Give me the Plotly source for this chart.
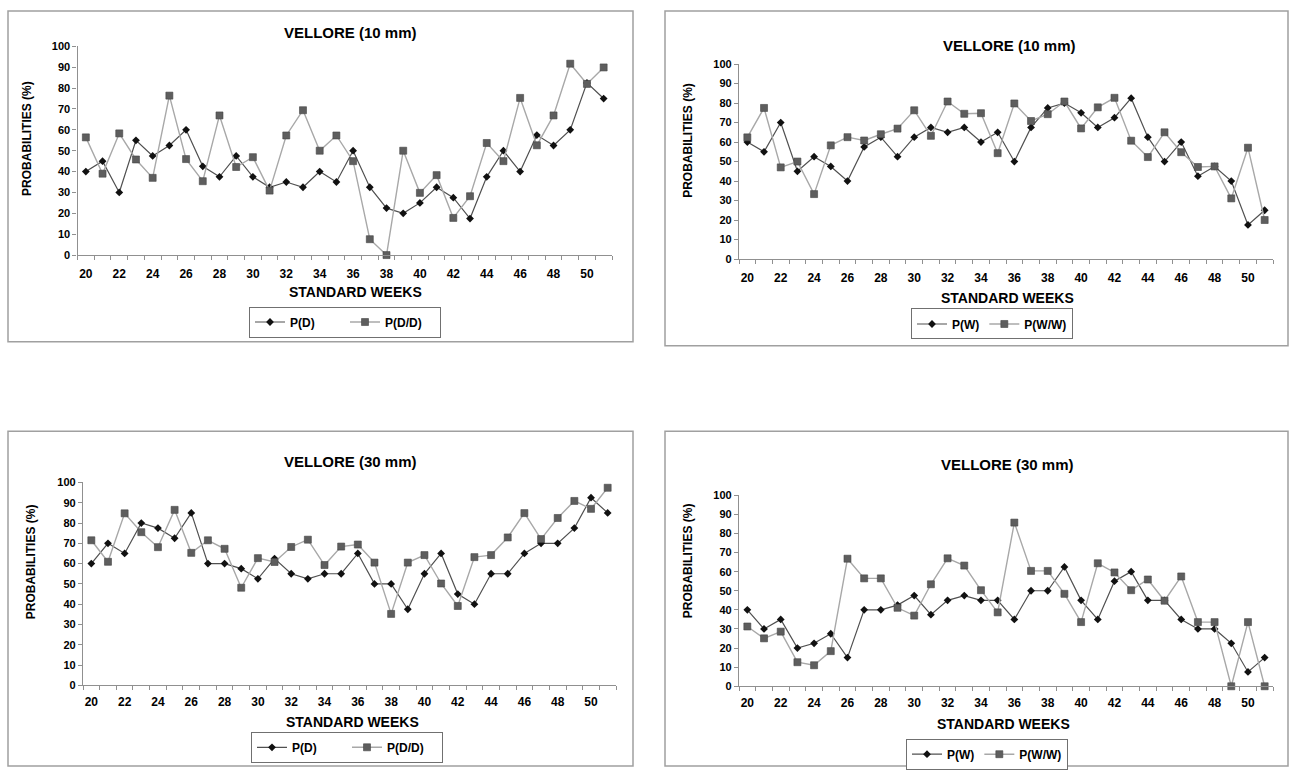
import plotly.graph_objects as go

W, H = 1289, 773

weeks = list(range(20, 52))
tick_weeks = list(range(20, 52, 2))
y_ticks = list(range(0, 101, 10))

# VELLORE (10 mm)
p_d_10 = [40, 45, 30, 55, 47.5, 52.5, 60, 42.5, 37.5, 47.5, 37.5, 32.5, 35, 32.5, 40, 35,
          50, 32.5, 22.5, 20, 25, 32.5, 27.5, 17.5, 37.5, 50, 40, 57.5, 52.5, 60, 82.5, 75]
p_dd_10 = [56.4, 39, 58.3, 45.8, 37, 76.4, 46, 35.4, 66.9, 42.2, 46.9, 30.9, 57.3, 69.4, 50, 57.3,
           45, 7.6, 0, 50, 29.8, 38.3, 17.8, 28.2, 53.7, 45, 75.3, 52.6, 66.9, 91.7, 82, 89.9]
p_w_10 = [60, 55, 70, 45, 52.5, 47.5, 40, 57.5, 62.5, 52.5, 62.5, 67.5, 65, 67.5, 60, 65,
          50, 67.5, 77.5, 80, 75, 67.5, 72.5, 82.5, 62.5, 50, 60, 42.5, 47.5, 40, 17.5, 25]
p_ww_10 = [62.4, 77.5, 47, 50, 33.3, 58.3, 62.5, 60.8, 64, 66.9, 76.3, 63.2, 80.8, 74.5, 74.8, 54.3,
           79.8, 70.8, 74.3, 80.8, 67, 77.8, 82.7, 60.7, 52.3, 65, 54.8, 47.2, 47.5, 31.1, 57.1, 20]

# VELLORE (30 mm)
p_d_30 = [60, 70, 65, 80, 77.5, 72.5, 85, 60, 60, 57.5, 52.5, 62.5, 55, 52.5, 55, 55,
          65, 50, 50, 37.5, 55, 65, 45, 40, 55, 55, 65, 70, 70, 77.5, 92.5, 85]
p_dd_30 = [71.5, 60.9, 84.8, 75.5, 68.1, 86.5, 65.3, 71.5, 67.3, 48.1, 62.7, 60.8, 68.2, 71.8, 59.3, 68.4,
           69.4, 60.5, 35.2, 60.5, 64.2, 50.2, 39.1, 63.2, 64.2, 72.9, 84.9, 72.1, 82.5, 90.9, 87, 97.4]
p_w_30 = [40, 30, 35, 20, 22.5, 27.5, 15, 40, 40, 42.5, 47.5, 37.5, 45, 47.5, 45, 45,
          35, 50, 50, 62.5, 45, 35, 55, 60, 45, 45, 35, 30, 30, 22.5, 7.5, 15]
p_ww_30 = [31.3, 25.1, 28.6, 12.6, 11, 18.4, 66.8, 56.5, 56.5, 41.1, 37, 53.4, 67, 63.2, 50.3, 38.7,
           85.7, 60.4, 60.4, 48.4, 33.6, 64.4, 59.6, 50.3, 55.9, 44.8, 57.5, 33.6, 33.6, 0, 33.6, 0]

panel_titles = ["VELLORE (10 mm)", "VELLORE (10 mm)", "VELLORE (30 mm)", "VELLORE (30 mm)"]
series_names = [("P(D)", "P(D/D)"), ("P(W)", "P(W/W)"), ("P(D)", "P(D/D)"), ("P(W)", "P(W/W)")]
series_data = [(p_d_10, p_dd_10), (p_w_10, p_ww_10), (p_d_30, p_dd_30), (p_w_30, p_ww_30)]
x_title = "STANDARD WEEKS"
y_title = "PROBABILITIES (%)"

FONT = "Liberation Sans, Arial, sans-serif"


def px(x):
    return x / W


def py(y):
    return 1 - y / H


# plot areas in pixels: (left, right, top(100), bottom(0))
areas = [(77.5, 612, 41, 253), (739, 1273, 59, 257), (83, 616, 484, 690), (739, 1273, 497, 691)]
frames = [(8, 633, 5, 341), (665, 1288, 5, 345), (8, 633, 432, 772), (665, 1288, 432, 772)]
title_pos = [(350, 27), (1010, 40), (350, 463), (1008, 466)]
xtitle_pos = [(355, 291), (1008, 297), (352, 727), (1003, 729)]
ytitle_pos = [(27, 135), (688, 137), (31, 565), (688, 564)]
legend_pos = [(345, 321), (992, 323), (347, 753), (987, 760)]
legend_entry_w = [50, 0, 50, 0]
label_push = [7, 7, 5, 5]

fig = go.Figure()
layout = dict(width=W, height=H, margin=dict(l=0, r=0, t=0, b=0),
              paper_bgcolor="white", plot_bgcolor="white", font=dict(family=FONT, color="black"),
              annotations=[], shapes=[])

for i in range(4):
    n = "" if i == 0 else str(i + 1)
    lg = "legend" if i == 0 else "legend" + str(i + 1)
    a, b = series_data[i]
    na, nb = series_names[i]
    fig.add_trace(go.Scatter(x=weeks, y=a, name=na, mode="lines+markers", xaxis="x" + n, yaxis="y" + n,
                             legend=lg, cliponaxis=False,
                             line=dict(color="#505050", width=1.2),
                             marker=dict(symbol="diamond", size=6, color="#111111")))
    fig.add_trace(go.Scatter(x=weeks, y=b, name=nb, mode="lines+markers", xaxis="x" + n, yaxis="y" + n,
                             legend=lg, cliponaxis=False,
                             line=dict(color="#a8a8a8", width=1.4),
                             marker=dict(symbol="square", size=7, color="#5e5e5e",
                                         line=dict(color="#444444", width=0.6))))
    l, r, t, bt = areas[i]
    layout["xaxis" + n] = dict(domain=[px(l), px(r)], range=[19.5, 51.5], anchor="y" + n,
                               tickmode="array", tickvals=tick_weeks, ticks="outside",
                               ticklen=label_push[i], tickcolor="rgba(0,0,0,0)",
                               tickfont=dict(size=12, family=FONT, weight="bold"),
                               showline=True, linecolor="#909090", linewidth=1.2,
                               showgrid=False, zeroline=False, fixedrange=True,
                               minor=dict(tickmode="linear", tick0=19.5, dtick=1, ticks="outside",
                                          ticklen=4, tickcolor="#909090", showgrid=False))
    layout["yaxis" + n] = dict(domain=[py(bt), py(t)], range=[0, 100], anchor="x" + n,
                               tickmode="array", tickvals=y_ticks, ticks="outside", ticklen=4,
                               tickcolor="#909090",
                               tickfont=dict(size=11, family=FONT, weight="bold"),
                               showline=True, linecolor="#909090", linewidth=1.2,
                               showgrid=False, zeroline=False, fixedrange=True)
    lx, ly = legend_pos[i]
    leg = dict(orientation="h", x=px(lx), y=py(ly), xanchor="center", yanchor="middle",
               xref="paper", yref="paper",
               bordercolor="#707070", borderwidth=1, bgcolor="white",
               itemwidth=30, tracegroupgap=0,
               font=dict(size=12, family=FONT, weight="bold"))
    if legend_entry_w[i]:
        leg["entrywidth"] = legend_entry_w[i]
        leg["entrywidthmode"] = "pixels"
    layout[lg] = leg
    fx0, fx1, fy0, fy1 = frames[i]
    layout["shapes"].append(dict(type="rect", xref="paper", yref="paper",
                                 x0=px(fx0), x1=px(fx1), y0=py(fy1), y1=py(fy0),
                                 line=dict(color="#a0a0a0", width=1.5), layer="below"))
    tx, ty = title_pos[i]
    layout["annotations"].append(dict(text=panel_titles[i], x=px(tx), y=py(ty), xref="paper", yref="paper",
                                      showarrow=False, xanchor="center", yanchor="middle",
                                      font=dict(size=15, family=FONT, weight="bold")))
    xx, xy = xtitle_pos[i]
    layout["annotations"].append(dict(text=x_title, x=px(xx), y=py(xy), xref="paper", yref="paper",
                                      showarrow=False, xanchor="center", yanchor="middle",
                                      font=dict(size=14, family=FONT, weight="bold")))
    yx, yy = ytitle_pos[i]
    layout["annotations"].append(dict(text=y_title, x=px(yx), y=py(yy), xref="paper", yref="paper",
                                      showarrow=False, xanchor="center", yanchor="middle", textangle=-90,
                                      font=dict(size=12, family=FONT, weight="bold")))

fig.update_layout(**layout)
fig.write_html("out.html")
